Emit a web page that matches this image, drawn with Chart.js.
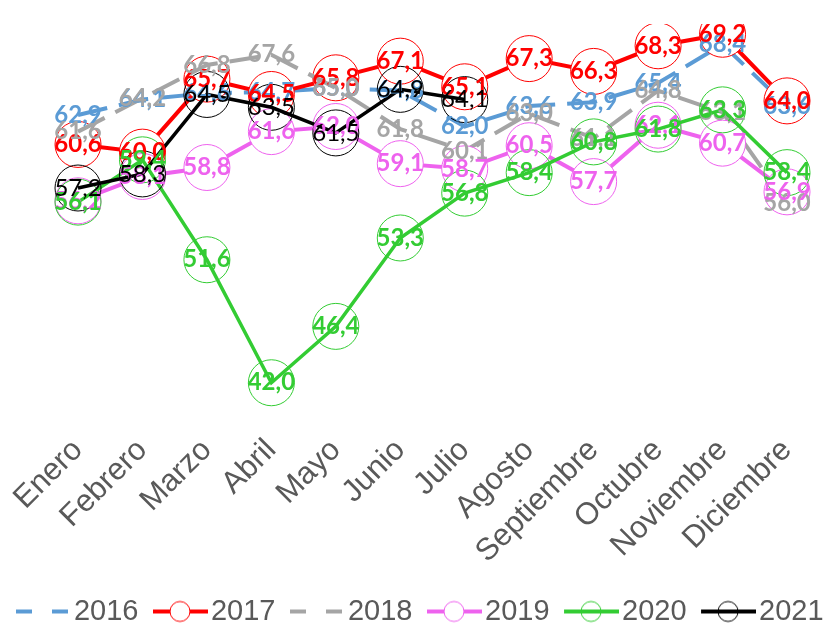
<!DOCTYPE html>
<html>
<head>
<meta charset="utf-8">
<script src="https://cdn.jsdelivr.net/npm/chart.js@4/dist/chart.umd.min.js"></script>
<style>
  html, body { margin: 0; padding: 0; background: #fff; }
  #wrap { width: 825px; height: 623px; position: relative; }
</style>
</head>
<body>
<div id="wrap"><canvas id="chart"></canvas></div>
<script>
const months = ['Enero', 'Febrero', 'Marzo', 'Abril', 'Mayo', 'Junio', 'Julio',
  'Agosto', 'Septiembre', 'Octubre', 'Noviembre', 'Diciembre'];
const years = ['2016', '2017', '2018', '2019', '2020', '2021'];

const v2016 = [62.9, 64.1, 64.6, 64.7, 65.0, 64.8, 62.0, 63.6, 63.9, 65.4, 68.4, 63.6];
const v2017 = [60.6, 60.0, 65.7, 64.5, 65.8, 67.1, 65.1, 67.3, 66.3, 68.3, 69.2, 64.0];
const v2018 = [61.6, 64.2, 66.8, 67.6, 65.0, 61.8, 60.1, 63.0, 61.1, 64.8, 63.1, 56.0];
const v2019 = [56.2, 58.1, 58.8, 61.6, 62.0, 59.1, 58.7, 60.5, 57.7, 62.1, 60.7, 56.9];
const v2020 = [56.1, 59.4, 51.6, 42.0, 46.4, 53.3, 56.8, 58.4, 60.8, 61.8, 63.3, 58.4];
const v2021 = [57.2, 58.3, 64.5, 63.5, 61.5, 64.9, 64.1, null, null, null, null, null];

const colors = ['#5B9BD5', '#FF0000', '#A5A5A5', '#EE62EE', '#33CC33', '#000000'];

// legend key: 55px line sample sitting in the right part of the image
function legendKey(color, dashed, marker, filled) {
  const c = document.createElement('canvas');
  c.width = 81; c.height = 30;
  const g = c.getContext('2d');
  const x0 = 81 - 55;
  g.strokeStyle = color;
  g.lineWidth = 4;
  if (dashed) g.setLineDash([16, 20]);
  g.beginPath(); g.moveTo(x0, 15); g.lineTo(81, 15); g.stroke();
  g.setLineDash([]);
  if (marker) {
    g.beginPath();
    g.arc(x0 + 27, 15, 10, 0, Math.PI * 2);
    if (filled) { g.fillStyle = '#fff'; g.fill(); }
    g.lineWidth = 1;
    g.stroke();
  }
  return c;
}

function series(label, data, i, opts) {
  return Object.assign({
    label: label,
    data: data,
    borderColor: colors[i],
    backgroundColor: colors[i],
    borderWidth: 4,
    pointRadius: 0,
    fill: false,
    tension: 0,
    order: 6 - i,
  }, opts);
}

const datasets = [
  series(years[0], v2016, 0, { borderDash: [30, 12] }),
  series(years[1], v2017, 1, { pointRadius: 23, pointBorderWidth: 1, pointBorderColor: colors[1], pointBackgroundColor: '#fff' }),
  series(years[2], v2018, 2, { borderDash: [30, 12] }),
  series(years[3], v2019, 3, { pointRadius: 23, pointBorderWidth: 1, pointBorderColor: colors[3], pointBackgroundColor: '#fff' }),
  series(years[4], v2020, 4, { borderWidth: 3.5, pointRadius: 23, pointBorderWidth: 1, pointBorderColor: colors[4], pointBackgroundColor: 'rgba(0,0,0,0)' }),
  series(years[5], v2021, 5, { borderWidth: 3.5, pointRadius: 23, pointBorderWidth: 1, pointBorderColor: colors[5], pointBackgroundColor: 'rgba(0,0,0,0)' }),
];

const keys = [
  legendKey(colors[0], true, false),
  legendKey(colors[1], false, true, true),
  legendKey(colors[2], true, false),
  legendKey(colors[3], false, true, true),
  legendKey(colors[4], false, true, false),
  legendKey(colors[5], false, true, false),
];

// value labels centred on each point, drawn after all lines
const pointLabels = {
  id: 'pointLabels',
  afterDatasetsDraw(chart) {
    const ctx = chart.ctx;
    chart.data.datasets.forEach((ds, i) => {
      const meta = chart.getDatasetMeta(i);
      ctx.save();
      ctx.font = (i === 5 ? '' : 'bold ') + '24px Lato, "Liberation Sans", sans-serif';
      ctx.fillStyle = colors[i];
      ctx.textAlign = 'center';
      ctx.textBaseline = 'middle';
      meta.data.forEach((pt, j) => {
        const v = ds.data[j];
        if (v == null) return;
        ctx.fillText(v.toFixed(1).replace('.', ','), pt.x, pt.y);
      });
      ctx.restore();
    });
  }
};

const blankAxis = (pos, w) => ({
  position: pos,
  display: true,
  grid: { display: false, drawTicks: false },
  border: { display: false },
  ticks: { display: false },
  afterFit(s) { s.width = w; },
});

new Chart(document.getElementById('chart'), {
  type: 'line',
  data: { labels: months, datasets: datasets },
  plugins: [pointLabels],
  options: {
    responsive: true,
    maintainAspectRatio: false,
    animation: false,
    events: [],
    layout: { padding: { left: 0, right: 0, top: 18, bottom: -13 } },
    scales: {
      x: {
        grid: { display: false, drawTicks: false },
        border: { display: false },
        ticks: {
          color: '#595959',
          font: { family: '"Liberation Sans", Arial, sans-serif', size: 31 },
          minRotation: 45,
          maxRotation: 45,
          autoSkip: false,
          padding: -2,
        },
        afterFit(s) { s.height = 163; },
      },
      y: Object.assign(blankAxis('left', 78), { min: 38, max: 70 }),
      yR: Object.assign(blankAxis('right', 38), { min: 38, max: 70 }),
    },
    plugins: {
      title: { display: false },
      tooltip: { enabled: false },
      legend: {
        position: 'bottom',
        labels: {
          color: '#595959',
          font: { family: '"Liberation Sans", Arial, sans-serif', size: 29 },
          usePointStyle: true,
          pointStyleWidth: 58,
          boxHeight: 29,
          padding: 0,
          sort: (a, b) => a.datasetIndex - b.datasetIndex,
          generateLabels(chart) {
            const items = Chart.defaults.plugins.legend.labels.generateLabels(chart);
            items.forEach(it => { it.pointStyle = keys[it.datasetIndex]; });
            return items;
          },
        },
      },
    },
  },
});
</script>
</body>
</html>
